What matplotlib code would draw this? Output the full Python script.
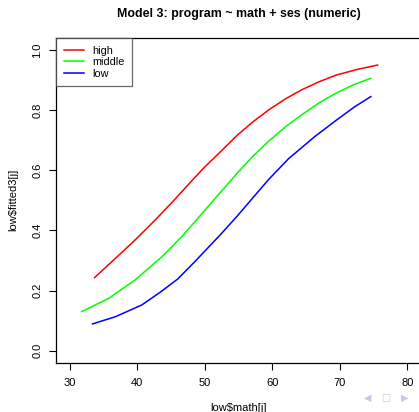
import matplotlib
matplotlib.use('Agg')
import matplotlib.pyplot as plt

# fitted probabilities, by ses group
HIGH_X = [33.7, 36.8, 39.7, 42.7, 45.5, 48.3, 49.8, 52.5, 54.8, 57.2,
          59.5, 62.0, 64.4, 67.0, 69.4, 72.5, 75.6]
HIGH_Y = [0.243, 0.307, 0.368, 0.435, 0.501, 0.570, 0.606, 0.665, 0.716, 0.762,
          0.801, 0.838, 0.868, 0.895, 0.916, 0.935, 0.950]
MID_X = [31.8, 35.8, 39.7, 43.7, 46.6, 48.6, 50.8, 54.8, 57.2, 59.5,
         62.0, 64.4, 67.0, 69.4, 72.0, 74.6]
MID_Y = [0.130, 0.174, 0.235, 0.313, 0.379, 0.430, 0.487, 0.590, 0.648, 0.697,
         0.745, 0.785, 0.825, 0.856, 0.884, 0.906]
LOW_X = [33.4, 36.8, 40.7, 43.4, 46.0, 48.5, 52.3, 54.8, 57.2, 59.5,
         62.4, 66.3, 69.4, 72.2, 74.6]
LOW_Y = [0.089, 0.113, 0.152, 0.194, 0.238, 0.295, 0.385, 0.447, 0.510, 0.570,
         0.638, 0.712, 0.765, 0.811, 0.845]

XTICKS = [30, 40, 50, 60, 70, 80]
YTICKS = [0.0, 0.2, 0.4, 0.6, 0.8, 1.0]

plt.rcParams['font.family'] = ['Liberation Sans', 'DejaVu Sans']

fig = plt.figure(figsize=(4.19, 4.12), dpi=100)
ax = fig.add_axes([0.1337, 0.1197, 0.8706, 0.7881])

ax.plot(HIGH_X, HIGH_Y, color='red', lw=1.1, label='high')
ax.plot(MID_X, MID_Y, color='#00ff00', lw=1.1, label='middle')
ax.plot(LOW_X, LOW_Y, color='blue', lw=1.1, label='low')

ax.set_xlim(28, 82)
ax.set_ylim(-0.04, 1.04)
ax.set_xticks(XTICKS)
ax.set_yticks(YTICKS)
ax.set_xticklabels([str(v) for v in XTICKS], fontsize=8)
ax.set_yticklabels([f'{v:.1f}' for v in YTICKS], fontsize=8, rotation=90, va='center')
ax.tick_params(axis='x', length=5, width=0.8, pad=6)
ax.tick_params(axis='y', length=5, width=0.8, pad=5)
for s in ax.spines.values():
    s.set_linewidth(0.9)

ax.set_xlabel('low$math[j]', fontsize=8, labelpad=11)
ax.set_ylabel('low$fitted3[j]', fontsize=8, labelpad=10)
ax.set_title('Model 3: program ~ math + ses (numeric)', fontsize=8.9,
             fontweight='bold', pad=15)

leg = ax.legend(loc='upper left', fontsize=7.8, frameon=True, fancybox=False,
                borderaxespad=0, handlelength=1.85, handletextpad=0.8,
                labelspacing=0.15, borderpad=0.7)
leg.get_frame().set_edgecolor('#444444')
leg.get_frame().set_linewidth(0.9)

# beamer navigation symbols
for xf, sym in [(0.878, '\u25c0'), (0.921, '\u25a1'), (0.966, '\u25b6')]:
    fig.text(xf, 0.034, sym, color='#c8c8e8', fontsize=7, ha='center', va='center',
             family='DejaVu Sans')

fig.savefig('out.png', dpi=100)
